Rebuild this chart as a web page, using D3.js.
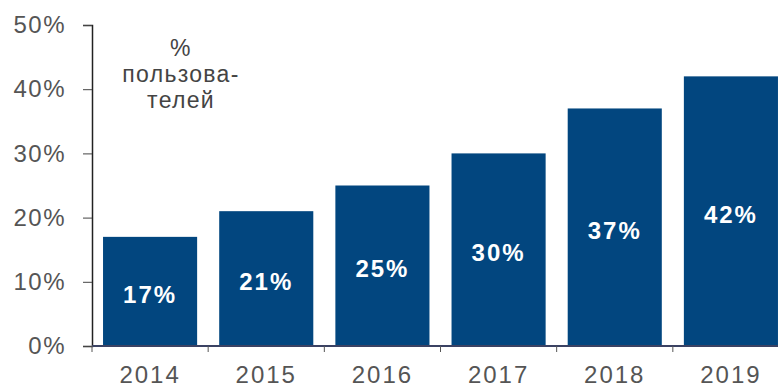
<!DOCTYPE html>
<html>
<head>
<meta charset="utf-8">
<script src="https://cdn.jsdelivr.net/npm/d3@7"></script>
<style>
  body { margin: 0; background: #fff; }
  svg { display: block; font-family: "Liberation Sans", Arial, sans-serif; }
</style>
</head>
<body>
<svg id="chart" width="778" height="387"></svg>
<script>
// values
const years = ['2014', '2015', '2016', '2017', '2018', '2019'];
const shares = [17, 21, 25, 30, 37, 42];
const yTicks = [0, 10, 20, 30, 40, 50];
const noteLines = ['%', 'пользова-', 'телей'];

const svg = d3.select('#chart');

// last band runs past the right edge, like the original crop
const x = d3.scaleBand()
    .domain(years)
    .range([92, 789])
    .paddingInner(0.19)
    .paddingOuter(0.095);

const y = d3.scaleLinear()
    .domain([0, 50])
    .range([346, 25]);

const barColor = '#02467f';

// bars
svg.append('g')
    .selectAll('rect')
    .data(years)
    .join('rect')
    .attr('x', d => x(d))
    .attr('y', (d, i) => y(shares[i]))
    .attr('width', x.bandwidth())
    .attr('height', (d, i) => y(0) - y(shares[i]))
    .attr('fill', barColor);

// value labels in the middle of each bar
svg.append('g')
    .selectAll('text')
    .data(years)
    .join('text')
    .attr('x', d => x(d) + x.bandwidth() / 2)
    .attr('y', (d, i) => (y(shares[i]) + y(0)) / 2 + 3)
    .attr('text-anchor', 'middle')
    .attr('dominant-baseline', 'central')
    .attr('fill', '#fff')
    .attr('font-weight', 'bold')
    .attr('font-size', 24)
    .attr('letter-spacing', 2)
    .text((d, i) => shares[i] + '%');

// y axis
const yAxis = svg.append('g')
    .attr('transform', 'translate(92,0)')
    .call(d3.axisLeft(y).tickValues(yTicks).tickSize(9).tickPadding(17).tickFormat(d => d + '%'));
yAxis.select('.domain').attr('stroke', '#222').attr('stroke-width', 1.5);
yAxis.selectAll('.tick line').attr('stroke', '#444');
yAxis.selectAll('text')
    .attr('font-size', 24)
    .attr('letter-spacing', 1.5)
    .attr('fill', '#555')
    .attr('font-family', '"Liberation Sans", Arial, sans-serif');

// x axis: ticks at band edges, labels at band centres
const xAxisG = svg.append('g').attr('transform', `translate(0,${y(0)})`);
xAxisG.append('line')
    .attr('x1', 92).attr('x2', 778)
    .attr('stroke', '#3b4263').attr('stroke-width', 2);
const step = x.step();
xAxisG.selectAll('.xtick')
    .data(years)
    .join('line')
    .attr('class', 'xtick')
    .attr('x1', d => x(d) - x.paddingOuter() * step)
    .attr('x2', d => x(d) - x.paddingOuter() * step)
    .attr('y1', 0).attr('y2', 6)
    .attr('stroke', '#555');
xAxisG.selectAll('.xlabel')
    .data(years)
    .join('text')
    .attr('class', 'xlabel')
    .attr('x', d => x(d) + x.bandwidth() / 2)
    .attr('y', 37)
    .attr('text-anchor', 'middle')
    .attr('font-size', 24)
    .attr('letter-spacing', 2)
    .attr('fill', '#555')
    .text(d => d);

// note in the upper left
svg.append('g')
    .selectAll('text')
    .data(noteLines)
    .join('text')
    .attr('x', 181)
    .attr('y', (d, i) => 56 + i * 26)
    .attr('text-anchor', 'middle')
    .attr('font-size', 23)
    .attr('letter-spacing', 1.3)
    .attr('fill', '#444')
    .text(d => d);
</script>
</body>
</html>
